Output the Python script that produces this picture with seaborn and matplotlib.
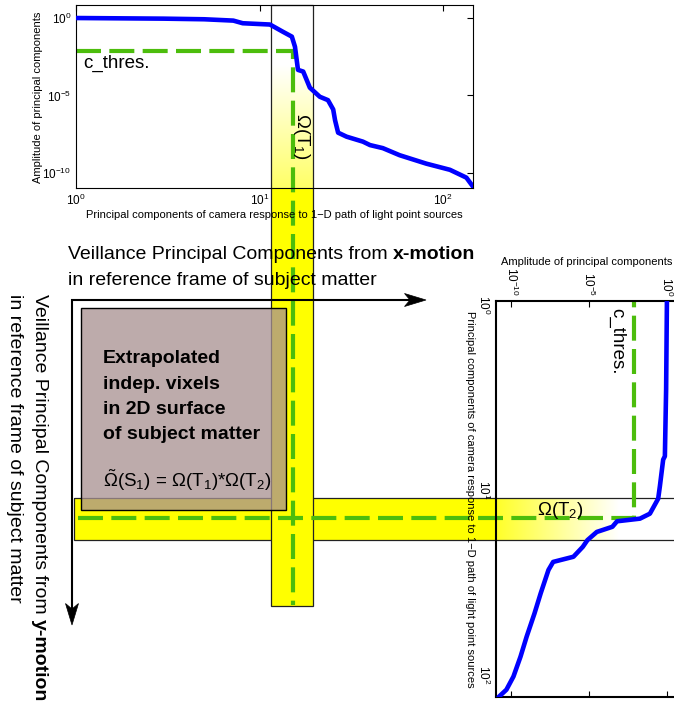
import numpy as np
import pandas as pd
import matplotlib
matplotlib.use("Agg")
import matplotlib.pyplot as plt
import seaborn as sns
from matplotlib.patches import Rectangle, Polygon
from matplotlib.ticker import LogLocator, NullFormatter, FixedLocator, NullLocator

# ---------------- data ----------------
x_motion_index = [1, 3, 5, 7.2, 8.1, 11.4, 13.4, 15.0, 15.6, 16.2, 17.3, 18.8,
                  21.3, 23.6, 25.2, 25.8, 26.8, 29.8, 36.6, 40, 47, 58, 81, 109, 134, 146]
x_motion_amplitude = [1.0, 0.91, 0.83, 0.68, 0.46, 0.38, 0.13, 6.3e-2, 1.4e-2, 4.5e-4,
                      3.5e-4, 3.2e-5, 8.3e-6, 5.0e-6, 1.26e-6, 2.5e-7, 4.0e-8, 2.2e-8,
                      1.05e-8, 6.3e-9, 4.0e-9, 1.4e-9, 4.0e-10, 1.6e-10, 5.0e-11, 1.26e-11]

y_motion_index = [1, 3, 6.9, 7.2, 10, 11.7, 14.1, 15.0, 15.5, 16.6, 17.7, 19.6, 21.3,
                  24.1, 25.7, 28.4, 38, 48.8, 65, 83.6, 107, 126, 138]
y_motion_amplitude = [1.0, 0.89, 0.74, 0.575, 0.355, 0.275, 8.1e-2, 1.86e-2, 6.3e-4,
                      3.16e-4, 3.16e-5, 7.9e-6, 4.0e-6, 1.0e-6, 5.0e-8, 2.5e-8, 7.9e-9,
                      3.16e-9, 1.0e-9, 4.0e-10, 1.41e-10, 5.0e-11, 1.58e-11]

c_thres = 7.5e-3
x_cross_index = 15.2
y_cross_index = 14.9
band_index = [11.6, 19.5]

amp_ticks = [1e-10, 1e-5, 1e0]
index_ticks = [1, 10, 100]
amp_lim = [10 ** -10.97, 10 ** 0.84]
x_index_lim = [1, 145.6]
y_index_lim = [1, 138]

xlabel_txt = "Principal components of camera response to 1\u2212D path of light point sources"
ylabel_txt = "Amplitude of principal components"

# ---------------- style ----------------
sns.set_style("white")
plt.rcParams["font.family"] = ["Liberation Sans", "DejaVu Sans"]
plt.rcParams["mathtext.fontset"] = "custom"
plt.rcParams["mathtext.rm"] = "Liberation Sans"
plt.rcParams["mathtext.it"] = "Liberation Sans:italic"
plt.rcParams["mathtext.bf"] = "Liberation Sans:bold"
plt.rcParams["axes.unicode_minus"] = True
plt.rcParams["text.color"] = "black"
plt.rcParams["axes.labelcolor"] = "black"
plt.rcParams["xtick.color"] = "black"
plt.rcParams["ytick.color"] = "black"

BLUE = "#0000ff"
GREEN = "#4cbd0c"
YELLOW = (1.0, 1.0, 0.0)

W, H = 674, 711
fig = plt.figure(figsize=(W / 100, H / 100), dpi=100)
fig.patch.set_facecolor("white")

# overlay axes in pixel coordinates (y downwards)
ov = fig.add_axes([0, 0, 1, 1], zorder=0)
ov.set_xlim(0, W)
ov.set_ylim(H, 0)
ov.axis("off")


def frac(l, t, r, b):
    return [l / W, 1 - b / H, (r - l) / W, (b - t) / H]


# layout (pixels)
T1 = dict(l=76, t=5, r=473, b=188)
T2 = dict(l=496, t=301, r=680, b=697)
VB_BOTTOM = 606
HB_LEFT = 74

ax1 = fig.add_axes(frac(T1["l"], T1["t"], T1["r"], T1["b"]), zorder=2)
ax2 = fig.add_axes(frac(T2["l"], T2["t"], T2["r"], T2["b"]), zorder=2)
for a in (ax1, ax2):
    a.patch.set_facecolor("none")

# ---------------- top plot (x-motion) ----------------
df1 = pd.DataFrame({"idx": x_motion_index, "amp": x_motion_amplitude})
sns.lineplot(data=df1, x="idx", y="amp", ax=ax1, color=BLUE, lw=3.3,
             sort=False, estimator=None, zorder=5)
ax1.set_xscale("log")
ax1.set_yscale("log")
ax1.set_xlim(*x_index_lim)
ax1.set_ylim(*amp_lim)
ax1.xaxis.set_major_locator(FixedLocator(index_ticks))
ax1.xaxis.set_minor_locator(NullLocator())
ax1.yaxis.set_major_locator(FixedLocator(amp_ticks))
ax1.yaxis.set_minor_locator(NullLocator())
ax1.tick_params(which="both", direction="in", top=True, right=True, labelsize=8.5,
                width=0.8, colors="k")
ax1.tick_params(which="major", length=4)
for s in ax1.spines.values():
    s.set_color("k")
    s.set_linewidth(0.8)
ax1.set_xlabel(xlabel_txt, fontsize=8, va="center")
ax1.set_ylabel(ylabel_txt, fontsize=8, va="center")
ax1.xaxis.set_label_coords(0.5, -0.148)
ax1.yaxis.set_label_coords(-0.096, 0.497)

# ---------------- right plot (y-motion), rotated ----------------
df2 = pd.DataFrame({"idx": y_motion_index, "amp": y_motion_amplitude})
sns.lineplot(data=df2, x="amp", y="idx", ax=ax2, color=BLUE, lw=3.3, orient="y",
             sort=False, estimator=None, zorder=5)
ax2.set_xscale("log")
ax2.set_yscale("log")
ax2.set_xlim(*amp_lim)
ax2.set_ylim(y_index_lim[1], y_index_lim[0])
ax2.xaxis.set_major_locator(FixedLocator(amp_ticks))
ax2.xaxis.set_minor_locator(NullLocator())
ax2.yaxis.set_major_locator(FixedLocator(index_ticks))
ax2.yaxis.set_minor_locator(LogLocator(base=10, subs=np.arange(2, 10)))
ax2.yaxis.set_minor_formatter(NullFormatter())
ax2.tick_params(which="both", direction="in", top=True, bottom=True, right=True,
                labeltop=True, labelbottom=False, labelsize=8.5, width=0.8, colors="k")
ax2.tick_params(which="major", length=4)
ax2.tick_params(which="minor", length=2.5)
ax2.tick_params(axis="both", labelrotation=-90)
for s in ax2.spines.values():
    s.set_color("k")
    s.set_linewidth(1.5)
ax2.xaxis.set_label_position("top")
ax2.set_xlabel(ylabel_txt, fontsize=8, va="center")
ax2.xaxis.set_label_coords(0.495, 1.098)
ax2.set_ylabel(xlabel_txt, fontsize=8, rotation=-90, va="center", ha="center")
ax2.yaxis.set_label_coords(-0.141, 0.498)


# ---------------- helpers ----------------
def to_px(ax, x, y):
    d = ax.transData.transform((x, y))
    return d[0], H - d[1]


bx0 = to_px(ax1, band_index[0], 1)[0]
bx1 = to_px(ax1, band_index[1], 1)[0]
by0 = to_px(ax2, 1, band_index[0])[1]
by1 = to_px(ax2, 1, band_index[1])[1]

G_START, G_END = -3.0, -11.0


def grad_alpha(amp, amax):
    la = np.log10(amp)
    return amax * np.clip((G_START - la) / (G_START - G_END), 0, 1)


# gradient inside top plot (vertical band)
inv1 = ax1.transData.inverted()
rows = np.arange(T1["t"], T1["b"] + 1) + 0.5
amps = np.array([inv1.transform((0.5 * (bx0 + bx1), H - py))[1] for py in rows])
img = np.zeros((len(rows), 1, 4))
img[..., 0] = 1
img[..., 1] = 1
img[:, 0, 3] = grad_alpha(amps, 0.6)
ov.imshow(img, extent=(bx0, bx1, T1["b"], T1["t"]), aspect="auto",
          interpolation="bilinear", zorder=1)

# gradient inside right plot (horizontal band)
inv2 = ax2.transData.inverted()
cols = np.arange(T2["l"], T2["r"] + 1) + 0.5
amps2 = np.array([inv2.transform((px, H - 0.5 * (by0 + by1)))[0] for px in cols])
img2 = np.zeros((1, len(cols), 4))
img2[..., 0] = 1
img2[..., 1] = 1
img2[0, :, 3] = grad_alpha(amps2, 0.85)
ov.imshow(img2, extent=(T2["l"], T2["r"], by1, by0), aspect="auto",
          interpolation="bilinear", zorder=1)

# solid horizontal band + outline
ov.add_patch(Rectangle((HB_LEFT, by0), T2["l"] - HB_LEFT, by1 - by0, fc=YELLOW,
                       ec="none", zorder=2))
ov.add_patch(Rectangle((HB_LEFT, by0), W + 20 - HB_LEFT, by1 - by0, fc="none",
                       ec="#222222", lw=0.9, zorder=3))
# solid vertical band + outline
ov.add_patch(Rectangle((bx0, T1["b"]), bx1 - bx0, VB_BOTTOM - T1["b"], fc=YELLOW,
                       ec="none", zorder=4))
ov.add_patch(Rectangle((bx0, T1["t"]), bx1 - bx0, VB_BOTTOM - T1["t"], fc="none",
                       ec="#222222", lw=0.9, zorder=5))

# extrapolated box
ov.add_patch(Rectangle((81, 308), 205, 202, fc=(0.659, 0.569, 0.569, 0.76),
                       ec="k", lw=1.0, zorder=6))

# green threshold lines
p0 = to_px(ax1, x_index_lim[0], c_thres)
pc = to_px(ax1, x_cross_index, c_thres)
ov.plot([p0[0], pc[0], pc[0]], [p0[1], pc[1], VB_BOTTOM - 1], color=GREEN, lw=3,
        dashes=(6, 2), solid_joinstyle="miter", zorder=7)
q_top = to_px(ax2, c_thres, y_index_lim[0])
qc = to_px(ax2, c_thres, y_cross_index)
ov.plot([HB_LEFT + 4, qc[0], qc[0]], [qc[1], qc[1], q_top[1]], color=GREEN, lw=3,
        dashes=(6, 2), zorder=7)

# labels on the curves
FS_L = 13.5
OMEGA = "\u03A9"
ov.text(83, 68, "c_thres.", fontsize=FS_L, ha="left", va="baseline", zorder=9)
ov.text(612, 308, "c_thres.", fontsize=FS_L, rotation=-90, rotation_mode="anchor",
        ha="left", va="baseline", zorder=9)
ov.text(297, 113, OMEGA + "(T$_1$)", fontsize=FS_L,
        rotation=-90, rotation_mode="anchor", ha="left", va="baseline", zorder=9)
ov.text(537, 515, OMEGA + "(T$_2$)", fontsize=FS_L, ha="left", va="baseline", zorder=9)


# arrows
def arrow(x0, y0, x1, y1, lw=1.5, hl=21.5, hw=6.5, notch=16):
    d = np.array([x1 - x0, y1 - y0], dtype=float)
    u = d / np.hypot(*d)
    n = np.array([-u[1], u[0]])
    tip = np.array([x1, y1], dtype=float)
    base = tip - u * notch
    ov.plot([x0, base[0]], [y0, base[1]], color="k", lw=lw, solid_capstyle="butt",
            zorder=8)
    pts = [tip, tip - u * hl + n * hw, base, tip - u * hl - n * hw]
    ov.add_patch(Polygon(pts, closed=True, fc="k", ec="k", lw=0.5, zorder=8))


arrow(71, 300, 426, 300)
arrow(72, 299, 72, 625)

# headings
FS_H = 14
r = fig.canvas.get_renderer()
sp = 0.278 * FS_H * 100 / 72
t = ov.text(68, 259, "Veillance Principal Components from", fontsize=FS_H,
            ha="left", va="baseline", zorder=9)
bb = t.get_window_extent(renderer=r)
ov.text(bb.x1 + sp, 259, "x-motion", fontsize=FS_H, fontweight="bold",
        ha="left", va="baseline", zorder=9)
ov.text(68, 285, "in reference frame of subject matter", fontsize=FS_H,
        ha="left", va="baseline", zorder=9)

t = ov.text(35, 294, "Veillance Principal Components from", fontsize=FS_H,
            rotation=-90, rotation_mode="anchor", ha="left", va="baseline", zorder=9)
bb = t.get_window_extent(renderer=r)
ov.text(35, (H - bb.y0) + sp, "y-motion", fontsize=FS_H, fontweight="bold",
        rotation=-90, rotation_mode="anchor", ha="left", va="baseline", zorder=9)
ov.text(9.5, 294, "in reference frame of subject matter", fontsize=FS_H,
        rotation=-90, rotation_mode="anchor", ha="left", va="baseline", zorder=9)

# box text
box_lines = ["Extrapolated", "indep. vixels", "in 2D surface", "of subject matter"]
for i, s in enumerate(box_lines):
    ov.text(103, 363.3 + 25.3 * i, s, fontsize=14, fontweight="bold",
            ha="left", va="baseline", zorder=9)
ov.text(103, 487, r"$\tilde{\Omega}$(S$_1$) = " + OMEGA + "(T$_1$)*" + OMEGA + "(T$_2$)",
        fontsize=13.5, ha="left", va="baseline", zorder=9)

fig.savefig("out.png", dpi=100)
